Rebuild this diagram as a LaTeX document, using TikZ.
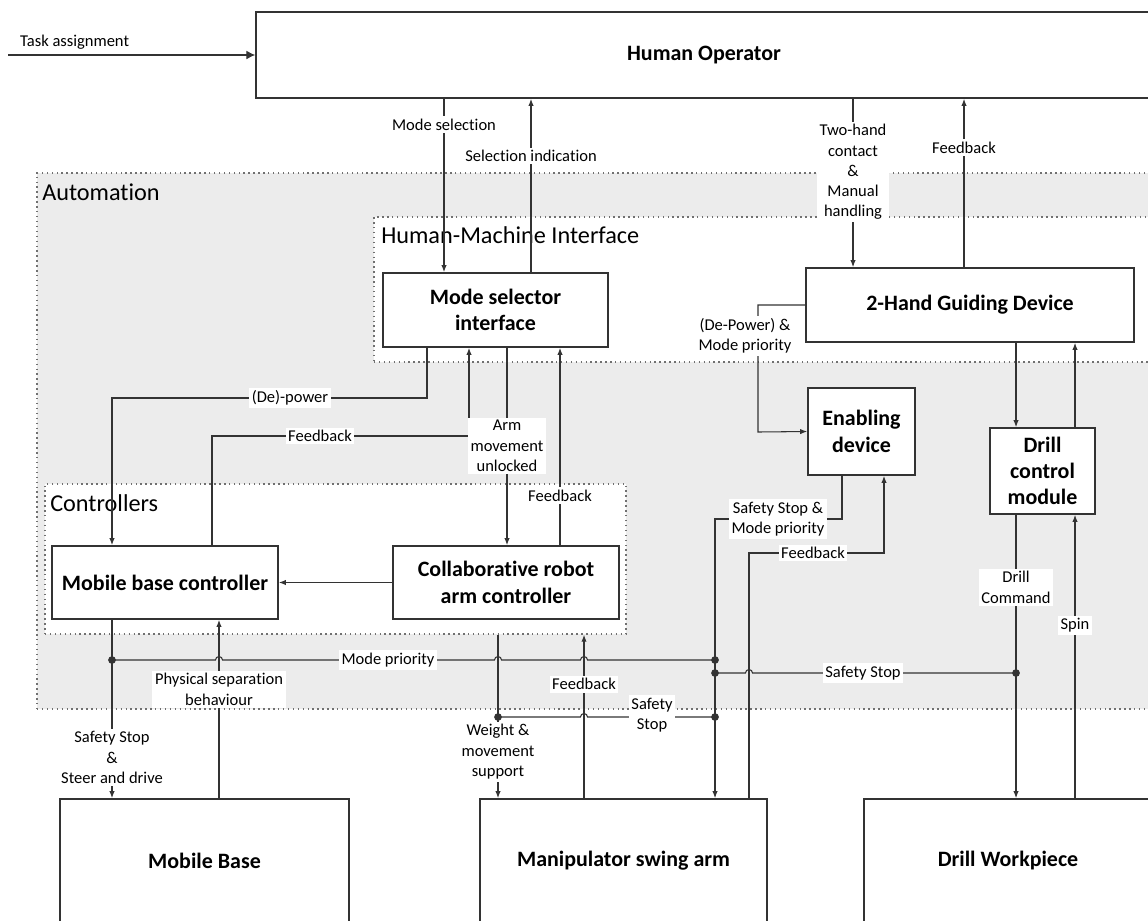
\documentclass[tikz,border=0pt]{standalone}
\usepackage{fontspec}
\setmainfont{Carlito}[Ligatures={NoCommon,NoRare,NoContextual}]
\usetikzlibrary{arrows.meta}
\definecolor{autogray}{HTML}{ECECEC}
\definecolor{linecol}{HTML}{333333}
\definecolor{grpcol}{HTML}{707070}
\begin{document}
\begin{tikzpicture}[x=.02cm,y=-.02cm,line width=.6pt,color=linecol,
	box/.style={draw,line width=.9pt,fill=white,text=black,align=center,inner sep=2pt,font=\bfseries\fontsize{12.5pt}{15pt}\selectfont},
	grp/.style={draw=grpcol,dotted,line width=.8pt,inner sep=0pt},
	grplbl/.style={anchor=west,inner sep=1pt,text=black,font=\fontsize{13.8pt}{16pt}\selectfont},
	lbl/.style={fill=white,inner sep=1.5pt,text=black,align=center,font=\fontsize{9.4pt}{11.5pt}\selectfont},
	arr/.style={-{Latex[length=4pt,width=3pt]}},
	bigarr/.style={-{Latex[length=5pt,width=5pt]}}]
	\def\px{.02cm}
	\clip (0,0) rectangle (1148,920);
	
	\node[grp,fill=autogray,minimum width=1115*\px,minimum height=536*\px] (auto) at (594.5,441) {};
	\node[grp,fill=white,minimum width=776*\px,minimum height=145*\px] (hmi) at (762,289.5) {};
	\node[grp,fill=white,minimum width=581*\px,minimum height=150*\px] (ctrl) at (335.5,559) {};
	\node[grplbl] (autolbl) at (40,192) {Automation};
	\node[grplbl] (hmilbl) at (379,235) {Human-Machine Interface};
	\node[grplbl] (ctrllbl) at (48,503) {Controllers};
	
	\node[box,minimum width=896*\px,minimum height=86*\px] (op) at (704,55) {Human Operator};
	\node[box,minimum width=225*\px,minimum height=74*\px] (msi) at (495.5,310) {Mode selector\\interface};
	\node[box,minimum width=328*\px,minimum height=74*\px] (hgd) at (970,305) {2-Hand Guiding Device};
	\node[box,minimum width=107*\px,minimum height=87*\px] (en) at (861.5,431.5) {Enabling\\device};
	\node[box,minimum width=105*\px,minimum height=86*\px] (dcm) at (1042.5,471) {Drill\\control\\module};
	\node[box,minimum width=226*\px,minimum height=73*\px] (mbc) at (165,582.5) {Mobile base controller};
	\node[box,minimum width=226*\px,minimum height=73*\px] (crc) at (506,582.5) {Collaborative robot\\arm controller};
	\node[box,minimum width=289*\px,minimum height=124*\px] (mb) at (204.5,861) {Mobile Base};
	\node[box,minimum width=287*\px,minimum height=124*\px] (msa) at (623.5,861) {Manipulator swing arm};
	\node[box,minimum width=288*\px,minimum height=124*\px] (dw) at (1008,861) {Drill Workpiece};
	
	\coordinate (ta) at (8,55);
	\coordinate (jmb) at (112,660);
	\coordinate (jen) at (715,660);
	\coordinate (jss) at (715,673);
	\coordinate (jdc) at (1016,673);
	\coordinate (jwt) at (498,717);
	\coordinate (jsa) at (715,717);
	
	\draw[bigarr] (ta) -- (op.west);
	\node[lbl,anchor=west] (lta) at (17,42) {Task assignment};
	
	\draw[arr] (op.south -| 444,0) -- (msi.north -| 444,0) node[lbl,pos=.15] (lms) {Mode selection};
	\draw[arr] (msi.north -| 531,0) -- (op.south -| 531,0) node[lbl,pos=.67] (lsi) {Selection indication};
	\draw[arr] (op.south -| 853,0) -- (hgd.north -| 853,0) node[lbl,pos=.435] (lth) {Two-hand\\contact\\\&\\Manual\\handling};
	\draw[arr] (hgd.north -| 964,0) -- (op.south -| 964,0) node[lbl,pos=.71] (lfo) {Feedback};
	
	\draw[arr] (hgd.west) -| (758,432) -- (en.west);
	\node[lbl] (ldp) at (745,336) {(De-Power) \&\\Mode priority};
	\draw[arr] (hgd.south -| 1016,0) -- (dcm.north -| 1016,0);
	\draw[arr] (dcm.north -| 1075,0) -- (hgd.south -| 1075,0);
	\draw[arr] (dcm.south -| 1016,0) -- (dw.north -| 1016,0) node[lbl,pos=.256] (ldc) {Drill\\Command};
	\draw[arr] (dw.north -| 1075,0) -- (dcm.south -| 1075,0) node[lbl,pos=.61] (lsp) {Spin};
	
	\draw[arr] (en.south -| 842,0) |- (715,519) -- (msa.north -| 715,0);
	\node[lbl] (lsm) at (778,519) {Safety Stop \&\\Mode priority};
	\draw[arr] (msa.north -| 749,0) |- (884,553) -- (en.south -| 884,0);
	\node[lbl] (lfe) at (813,553) {Feedback};
	
	\draw[arr] (crc.west) -- (mbc.east);
	\draw[arr] (msi.south -| 427,0) |- (112,398) -- (mbc.north -| 112,0);
	\node[lbl] (ldpw) at (290,398) {(De)-power};
	\draw[arr] (mbc.north -| 212,0) |- (469,436) -- (msi.south -| 469,0);
	\node[lbl] (lfm) at (320,436) {Feedback};
	\draw[arr] (msi.south -| 507,0) -- (crc.north -| 507,0) node[lbl,pos=.497] (lam) {Arm\\movement\\unlocked};
	\draw[arr] (crc.north -| 560,0) -- (msi.south -| 560,0) node[lbl,pos=.25] (lfc) {Feedback};
	
	\draw[arr] (mbc.south -| 112,0) -- (mb.north -| 112,0) node[lbl,pos=.772] (lsd) {Safety Stop\\\&\\Steer and drive};
	\draw[arr] (mb.north -| 219,0) -- (mbc.south -| 219,0) node[lbl,pos=.61] (lps) {Physical separation\\behaviour};
	\draw[arr] (ctrl.south -| 498,0) -- (msa.north -| 498,0) node[lbl,pos=.715] (lwm) {Weight \&\\movement\\support};
	\draw[arr] (msa.north -| 584,0) -- (ctrl.south -| 584,0) node[lbl,pos=.697] (lfs) {Feedback};
	
	\draw (jmb) -- ([xshift=-2pt]219,660) arc[start angle=180,end angle=0,radius=2pt]
		-- ([xshift=-2pt]498,660) arc[start angle=180,end angle=0,radius=2pt]
		-- ([xshift=-2pt]584,660) arc[start angle=180,end angle=0,radius=2pt] -- (jen);
	\node[lbl] (lmp) at (388,660) {Mode priority};
	\draw (jss) -- ([xshift=-2pt]749,673) arc[start angle=180,end angle=0,radius=2pt] -- (jdc);
	\node[lbl] (lss) at (863,673) {Safety Stop};
	\draw (jwt) -- ([xshift=-2pt]584,717) arc[start angle=180,end angle=0,radius=2pt] -- (jsa);
	\node[lbl] (lsw) at (652,715) {Safety\\Stop};
	
	\foreach \j in {jmb,jen,jss,jdc,jwt,jsa}
		\fill (\j) circle (2.2pt);
\end{tikzpicture}
\end{document}
